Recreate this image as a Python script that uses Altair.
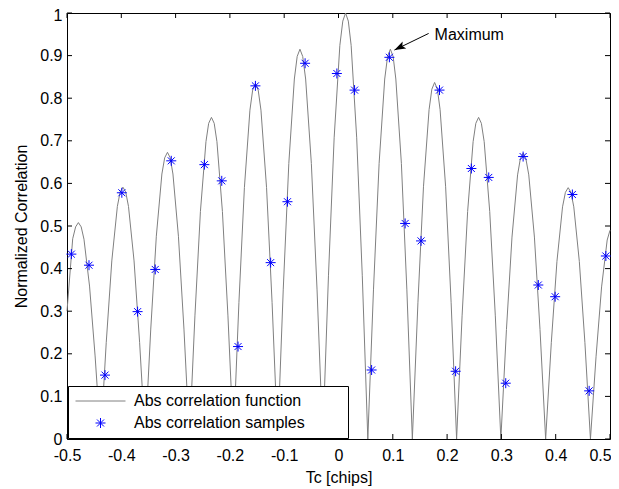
import altair as alt
import pandas as pd

# ---------------- data ----------------
tau_curve = [
    -0.5, -0.4895, -0.4841, -0.479, -0.4739, -0.46875, -0.4585, -0.44825, -0.438,
    -0.42775, -0.4175, -0.40725, -0.4021, -0.397, -0.3919, -0.38675, -0.3765, -0.36625, -0.356,
    -0.34575, -0.3355, -0.32525, -0.3201, -0.315, -0.3099, -0.3049, -0.2948, -0.2846, -0.2745,
    -0.2644, -0.2543, -0.2441, -0.2391, -0.234, -0.2289, -0.2239, -0.2138, -0.2036, -0.1935,
    -0.1834, -0.1733, -0.1631, -0.1581, -0.153, -0.1479, -0.1428, -0.1325, -0.1223, -0.112,
    -0.1018, -0.0915, -0.0813, -0.0761, -0.071, -0.0659, -0.0605, -0.05, -0.0395, -0.029,
    -0.0185, -0.008, 0.0025, 0.0079, 0.013, 0.0181, 0.0233, 0.0335, 0.0438, 0.054,
    0.0644, 0.0748, 0.0851, 0.0904, 0.0955, 0.1006, 0.1056, 0.1158, 0.1259, 0.136,
    0.1463, 0.1565, 0.1668, 0.1719, 0.177, 0.1821, 0.1871, 0.1973, 0.2074, 0.2175,
    0.2276, 0.2378, 0.2479, 0.2529, 0.258, 0.2631, 0.2683, 0.2785, 0.2888, 0.299,
    0.3093, 0.3195, 0.3298, 0.3349, 0.340, 0.3451, 0.3504, 0.3608, 0.3711, 0.3815,
    0.3919, 0.4023, 0.4126, 0.4179, 0.423, 0.4281, 0.4333, 0.4435, 0.4538, 0.464,
    0.4743, 0.4845, 0.4948, 0.5,
]
corr_curve = [
    0.30, 0.47, 0.498, 0.508, 0.498, 0.469, 0.359, 0.195, 0.0,
    0.226, 0.418, 0.546, 0.580, 0.591, 0.580, 0.546, 0.418, 0.226, 0.0,
    0.258, 0.476, 0.622, 0.660, 0.673, 0.660, 0.622, 0.476, 0.258, 0.0,
    0.289, 0.534, 0.698, 0.741, 0.755, 0.741, 0.698, 0.534, 0.289, 0.0,
    0.320, 0.590, 0.772, 0.819, 0.835, 0.819, 0.772, 0.590, 0.320, 0.0,
    0.350, 0.647, 0.845, 0.898, 0.915, 0.898, 0.845, 0.647, 0.350, 0.0,
    0.383, 0.707, 0.924, 0.981, 1.0, 0.981, 0.924, 0.707, 0.383, 0.0,
    0.350, 0.647, 0.845, 0.898, 0.915, 0.898, 0.845, 0.647, 0.350, 0.0,
    0.321, 0.592, 0.773, 0.821, 0.837, 0.821, 0.773, 0.592, 0.321, 0.0,
    0.289, 0.534, 0.698, 0.741, 0.755, 0.741, 0.698, 0.534, 0.289, 0.0,
    0.257, 0.474, 0.620, 0.658, 0.671, 0.658, 0.620, 0.474, 0.257, 0.0,
    0.226, 0.417, 0.545, 0.579, 0.590, 0.579, 0.545, 0.417, 0.226, 0.0,
    0.193, 0.357, 0.467, 0.49,
]
tau_samples = [
    -0.492, -0.4595, -0.430, -0.399, -0.370, -0.3375, -0.308, -0.247,
    -0.215, -0.185, -0.153, -0.125, -0.094, -0.0615, -0.031, -0.003,
    0.0296, 0.061, 0.0937, 0.1227, 0.152, 0.186, 0.2157, 0.2447,
    0.2767, 0.308, 0.340, 0.368, 0.399, 0.4307, 0.4616, 0.4924,
]
corr_samples = [
    0.434, 0.408, 0.150, 0.578, 0.299, 0.398, 0.653, 0.644,
    0.606, 0.217, 0.829, 0.414, 0.557, 0.882, 0.101, 0.858,
    0.819, 0.162, 0.896, 0.506, 0.465, 0.819, 0.159, 0.635,
    0.614, 0.131, 0.663, 0.3615, 0.334, 0.574, 0.113, 0.4296,
]
series_names = ["Abs correlation function", "Abs correlation samples"]
x_ticks = [-0.5, -0.4, -0.3, -0.2, -0.1, 0.0, 0.1, 0.2, 0.3, 0.4, 0.5]
y_ticks = [0.0, 0.1, 0.2, 0.3, 0.4, 0.5, 0.6, 0.7, 0.8, 0.9, 1.0]
annot_label = ["Maximum"]
annot_text_tau = [0.177]
annot_text_corr = [0.937]
arrow_tail_tau = [0.166]
arrow_tail_corr = [0.952]
arrow_head_tau = [0.103]
arrow_head_corr = [0.913]

# ---------------- styling ----------------
W, H = 543, 426
FONT = "Liberation Sans"
FS = 16
ASTERISK = ("M0,-0.2L0,0.2M-0.2,0L0.2,0M-0.14,-0.14L0.14,0.14"
            "M-0.14,0.14L0.14,-0.14")
ARROW = "M0,0L0.5,1.4L0,1.1L-0.5,1.4Z"
PAD = "\u2800" * 3

curve_df = pd.DataFrame({"tau": tau_curve, "corr": corr_curve})
samp_df = pd.DataFrame({"tau": tau_samples, "corr": corr_samples,
                        "series": [series_names[1]] * len(tau_samples)})
xt_df = pd.DataFrame({"tau": x_ticks})
yt_df = pd.DataFrame({"corr": y_ticks})
text_df = pd.DataFrame({"tau": annot_text_tau, "corr": annot_text_corr,
                        "label": annot_label})
arrow_df = pd.DataFrame({"tau": arrow_tail_tau, "corr": arrow_tail_corr,
                         "tau2": arrow_head_tau, "corr2": arrow_head_corr})

xscale = alt.Scale(domain=[-0.5, 0.5], nice=False, zero=False)
yscale = alt.Scale(domain=[0, 1], nice=False, zero=False)

x_axis = alt.Axis(values=x_ticks, labelExpr="datum.value + ''", ticks=False,
                  domain=False, grid=False, labelFont=FONT, labelFontSize=FS,
                  labelColor="black", labelPadding=8, labelFlush=False,
                  labelOverlap=False, title="Tc [chips]", titleFont=FONT,
                  titleFontSize=FS, titleFontWeight="normal",
                  titleColor="black", titlePadding=6,
                  labelOffset={"condition": {"test": "datum.value === 0.5",
                                             "value": -10}, "value": 0})
y_axis = alt.Axis(values=y_ticks, labelExpr="datum.value + ''", ticks=False,
                  domain=False, grid=False, labelFont=FONT, labelFontSize=FS,
                  labelColor="black", labelPadding=5, labelFlush=False,
                  labelOverlap=False, title="Normalized Correlation",
                  titleFont=FONT, titleFontSize=FS, titleFontWeight="normal",
                  titleColor="black", titlePadding=10,
                  labelOffset={"condition": {"test": "datum.value === 1",
                                             "value": 2}, "value": 0})

X = alt.X("tau:Q", scale=xscale, axis=x_axis, title="Tc [chips]")
Y = alt.Y("corr:Q", scale=yscale, axis=y_axis, title="Normalized Correlation")

legend = alt.Legend(title=None, orient="bottom-left", offset=1,
                    fillColor="white", strokeColor="black", padding=7,
                    labelFont=FONT, labelFontSize=FS, labelColor="black",
                    labelLimit=400,
                    symbolSize=2500, symbolStrokeWidth=1, clipHeight=16,
                    rowPadding=6, labelOffset=8, cornerRadius=0,
                    labelExpr="datum.label + '" + PAD + "'")

line = alt.Chart(curve_df).mark_line(color="#808080", strokeWidth=1).encode(
    x=X, y=Y)

samples = alt.Chart(samp_df).mark_point(filled=False, size=2500,
                                        strokeWidth=1, opacity=1).encode(
    x=X, y=Y,
    color=alt.Color("series:N",
                    scale=alt.Scale(domain=series_names,
                                    range=["#808080", "#0000ff"]),
                    legend=legend),
    shape=alt.Shape("series:N",
                    scale=alt.Scale(domain=series_names,
                                    range=["stroke", ASTERISK]),
                    legend=legend),
)

tick_b = alt.Chart(xt_df).mark_rule(color="black", strokeWidth=1).encode(
    x=X, y=alt.value(H), y2=alt.value(H - 5))
tick_t = alt.Chart(xt_df).mark_rule(color="black", strokeWidth=1).encode(
    x=X, y=alt.value(0), y2=alt.value(5))
tick_l = alt.Chart(yt_df).mark_rule(color="black", strokeWidth=1).encode(
    y=Y, x=alt.value(0), x2=alt.value(5))
tick_r = alt.Chart(yt_df).mark_rule(color="black", strokeWidth=1).encode(
    y=Y, x=alt.value(W), x2=alt.value(W - 5))

arrow_line = alt.Chart(arrow_df).mark_rule(color="black", strokeWidth=1).encode(
    x=X, y=Y, x2="tau2:Q", y2="corr2:Q")
arrow_head = alt.Chart(arrow_df).mark_point(
    shape=ARROW, filled=True, color="black", size=256, angle=243.4,
    opacity=1).encode(
    x=alt.X("tau2:Q", scale=xscale, axis=x_axis, title="Tc [chips]"),
    y=alt.Y("corr2:Q", scale=yscale, axis=y_axis,
            title="Normalized Correlation"),
)
annot = alt.Chart(text_df).mark_text(align="left", baseline="alphabetic",
                                     font=FONT, fontSize=FS,
                                     color="black").encode(
    x=X, y=Y, text="label:N")

chart = alt.layer(line, samples, tick_b, tick_t, tick_l, tick_r,
                  arrow_line, arrow_head, annot).properties(
    width=W, height=H,
    autosize=alt.AutoSizeParams(type="none"),
    padding={"left": 59, "top": 5, "right": 1, "bottom": 48},
    background="white",
).configure_view(stroke="black", strokeWidth=1)

chart.save("out.html", embed_options={"renderer": "svg", "actions": False})
